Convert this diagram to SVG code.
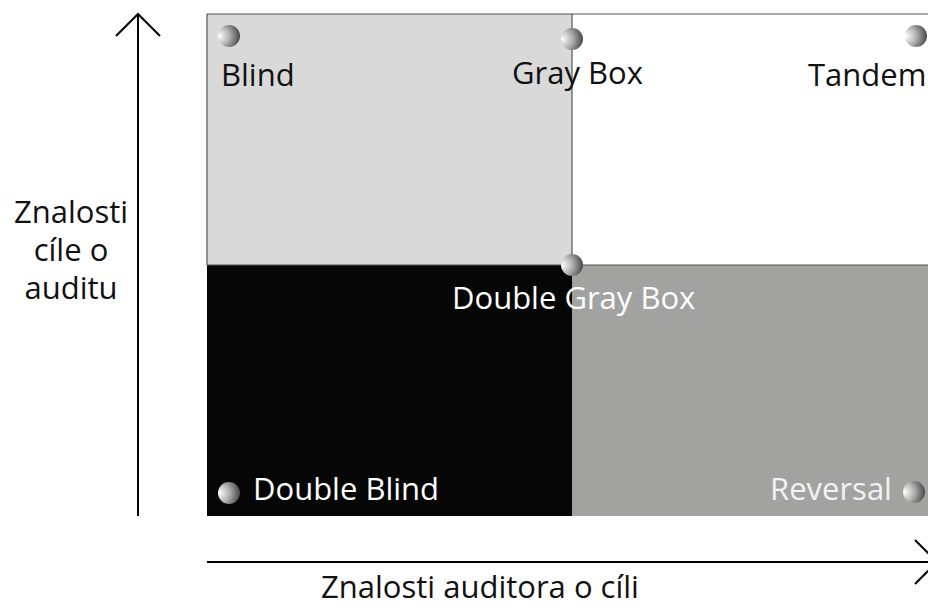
<svg xmlns="http://www.w3.org/2000/svg" width="928" height="610" viewBox="0 0 928 610">
<defs>
<radialGradient id="ball" cx="0.1" cy="0.5" r="1" fx="0.05" fy="0.5">
<stop offset="0" stop-color="#ffffff"/>
<stop offset="0.45" stop-color="#b0b0b0"/>
<stop offset="1" stop-color="#333333"/>
</radialGradient>
</defs>
<style>
.lbl{font-family:"Open Sans","Noto Sans","Liberation Sans",sans-serif;font-size:31px}
.dk{fill:#111}
.wt{fill:#fff}
.ball{fill:url(#ball)}
.ax{stroke:#000;stroke-width:2;fill:none}
.grid{stroke:#555;stroke-width:1.2;fill:none}
</style>
<g id="quadrants">
<rect x="207" y="14" width="365" height="251" fill="#d9d9d9"/>
<rect x="572" y="14" width="356" height="251" fill="#ffffff"/>
<rect x="207" y="265" width="365" height="251" fill="#060606"/>
<rect x="572" y="265" width="356" height="251" fill="#a2a3a1"/>
<path class="grid" d="M207 14H928M207 14V265M572 14V265M207 265H928"/>
</g>
<g id="connectors">
<path class="ax" d="M138 516V14M116 36L138 14L160 36"/>
<path class="ax" d="M207 562H937M915 540L937 562L915 584"/>
</g>
<g id="blind"><circle class="ball" cx="229" cy="36" r="11"/><text class="lbl dk" x="221" y="86">Blind</text></g>
<g id="graybox"><text class="lbl dk" x="512" y="84">Gray Box</text><circle class="ball" cx="572" cy="39" r="11"/></g>
<g id="tandem"><circle class="ball" cx="916" cy="36" r="11"/><text class="lbl dk" x="808" y="86">Tandem</text></g>
<g id="doublegraybox"><text class="lbl wt" x="452" y="309">Double Gray Box</text><circle class="ball" cx="572" cy="265" r="11"/></g>
<g id="doubleblind"><circle class="ball" cx="229" cy="493" r="11"/><text class="lbl wt" x="253" y="500">Double Blind</text></g>
<g id="reversal"><text class="lbl" fill="#f2f2f2" x="770" y="500">Reversal</text><circle class="ball" cx="914" cy="492" r="11"/></g>
<g id="yaxis-label"><text class="lbl dk" text-anchor="middle"><tspan x="71" y="223">Znalosti</tspan><tspan x="71" y="261">cíle o</tspan><tspan x="71" y="299">auditu</tspan></text></g>
<g id="xaxis-label"><text class="lbl dk" text-anchor="middle" x="480" y="598">Znalosti auditora o cíli</text></g>
</svg>
